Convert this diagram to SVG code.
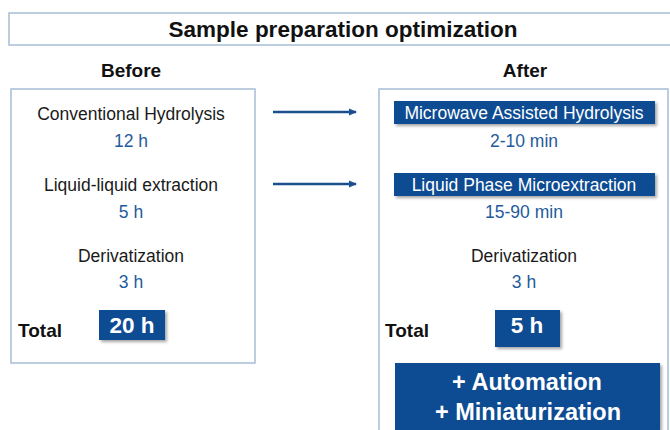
<svg xmlns="http://www.w3.org/2000/svg" width="670" height="430" viewBox="0 0 670 430">
<defs>
<style>
.t{font-family:"Liberation Sans",Arial,sans-serif;text-anchor:middle}
.blk{fill:#1a1a1a;font-size:17.5px}
.blu{fill:#1f5b9b;font-size:17.5px}
.hd{fill:#111;font-size:19px;font-weight:bold}
.tot{text-anchor:start;font-size:19px;font-weight:bold;fill:#111}
.wh{fill:#fff}
.box{fill:#fff;stroke:#a8bdd6;stroke-width:1.5}
.dk{fill:#0e4c92}
.conn{stroke:#1b4f8c;stroke-width:2.5;fill:none}
</style>
<filter id="sh" x="-10%" y="-10%" width="130%" height="140%">
<feDropShadow dx="2" dy="2" stdDeviation="1.5" flood-color="#000" flood-opacity="0.35"/>
</filter>
<marker id="ah" markerWidth="8" markerHeight="8" refX="7" refY="4" orient="auto" markerUnits="userSpaceOnUse">
<path d="M0,0.5 L8,4 L0,7.5 Z" fill="#1b4f8c"/>
</marker>
</defs>
<rect width="670" height="430" fill="#fff"/>
<g id="title">
<rect class="box" x="9" y="13" width="670" height="32"/>
<text class="t" x="343" y="37" style="font-size:22.5px;font-weight:bold;fill:#111">Sample preparation optimization</text>
</g>
<g id="before-label"><text class="t hd" x="131" y="77">Before</text></g>
<g id="after-label"><text class="t hd" x="525" y="77">After</text></g>
<g id="before">
<rect class="box" x="11" y="89" width="244" height="274"/>
<text class="t blk" x="131" y="120">Conventional Hydrolysis</text>
<text class="t blu" x="131" y="147">12 h</text>
<text class="t blk" x="131" y="191">Liquid-liquid extraction</text>
<text class="t blu" x="131" y="218">5 h</text>
<text class="t blk" x="131" y="262">Derivatization</text>
<text class="t blu" x="131" y="288">3 h</text>
<text class="t tot" x="18" y="337">Total</text>
<rect class="dk" x="99" y="310" width="66" height="30" filter="url(#sh)"/>
<text class="t wh" x="132" y="333" style="font-size:22.5px;font-weight:bold">20 h</text>
</g>
<g id="after">
<rect class="box" x="379" y="89" width="289" height="350"/>
<rect class="dk" x="394" y="101" width="261" height="23" filter="url(#sh)"/>
<text class="t wh" x="524" y="118.5" style="font-size:17.5px">Microwave Assisted Hydrolysis</text>
<text class="t blu" x="524" y="147">2-10 min</text>
<rect class="dk" x="394" y="173" width="261" height="23" filter="url(#sh)"/>
<text class="t wh" x="524" y="190.5" style="font-size:17.5px">Liquid Phase Microextraction</text>
<text class="t blu" x="524" y="218">15-90 min</text>
<text class="t blk" x="524" y="262">Derivatization</text>
<text class="t blu" x="524" y="288">3 h</text>
<text class="t tot" x="385" y="337">Total</text>
<rect class="dk" x="495" y="310" width="65" height="37" filter="url(#sh)"/>
<text class="t wh" x="527" y="333" style="font-size:22.5px;font-weight:bold">5 h</text>
<rect class="dk" x="395" y="363" width="265" height="67" filter="url(#sh)"/>
<text class="t wh" x="527" y="390" style="font-size:23.5px;font-weight:bold">+ Automation</text>
<text class="t wh" x="528" y="420" style="font-size:23.5px;font-weight:bold">+ Miniaturization</text>
</g>
<g id="connectors">
<line class="conn" x1="273" y1="112" x2="356" y2="112" marker-end="url(#ah)"/>
<line class="conn" x1="273" y1="184" x2="356" y2="184" marker-end="url(#ah)"/>
</g>
</svg>
